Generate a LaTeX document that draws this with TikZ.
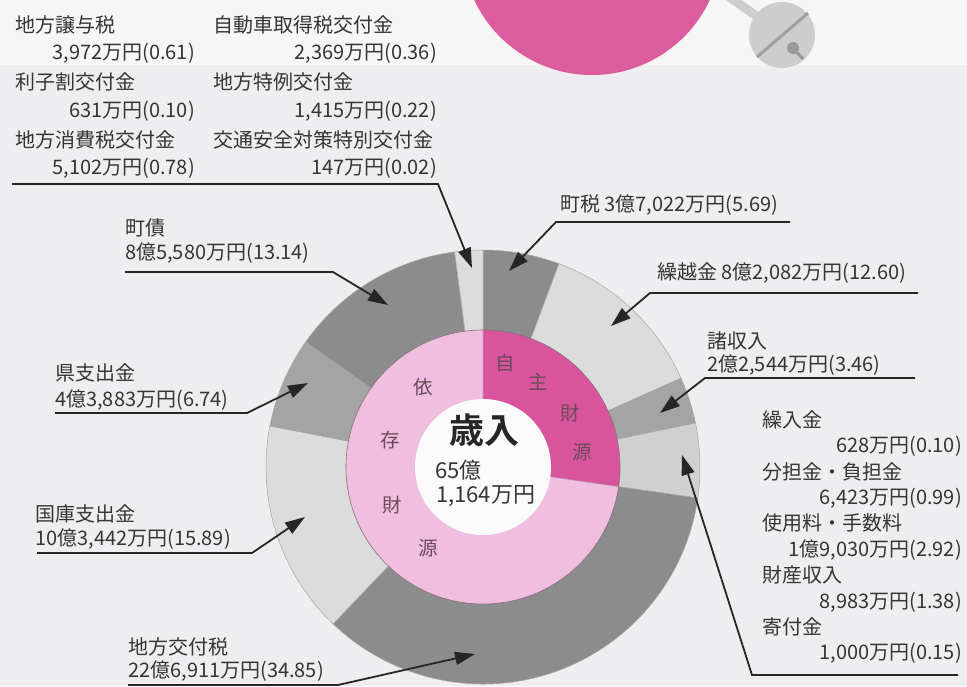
\documentclass[tikz,border=0pt]{standalone}
\usepackage{fontspec}
\setmainfont{Noto Sans CJK JP}[BoldFont={Noto Sans CJK JP Bold}]
\usetikzlibrary{arrows.meta}

\definecolor{bgpaper}{HTML}{EEEEF0}
\definecolor{bgtop}{HTML}{F6F6F6}
\definecolor{txtgray}{HTML}{353535}
\definecolor{segdark}{HTML}{8C8C8C}
\definecolor{segmid}{HTML}{A4A4A4}
\definecolor{seglight}{HTML}{DCDCDC}
\definecolor{segpale}{HTML}{D0D0D0}
\definecolor{pinkdark}{HTML}{D9559B}
\definecolor{pinklight}{HTML}{F0BEDF}
\definecolor{pinktext}{HTML}{6B4A5C}
\definecolor{blobpink}{HTML}{DC5D9E}
\definecolor{bellgray}{HTML}{CDCDCD}

\tikzset{
  lbl/.style={font=\fontsize{20}{24}\selectfont, text=txtgray, inner sep=0pt},
  ringlbl/.style={font=\fontsize{19.5}{22}\selectfont, text=pinktext, inner sep=0pt},
  leader/.style={line width=1.8pt, draw=black!85, -{Triangle[length=20pt,width=13pt]}},
}

\begin{document}
\begin{tikzpicture}[x=1pt, y=-1pt]
    \useasboundingbox (0,0) rectangle (967,686);
    \clip (0,0) rectangle (967,686);
    % paper
    \fill[bgpaper] (0,0) rectangle (967,686);
    \fill[bgtop] (0,0) rectangle (967,65);

    % decoration at the top
    \fill[blobpink] (592,-55) circle[radius=130pt];
    \draw[bellgray, line width=9pt] (728,-4) -- (762,20);
    \fill[bellgray] (782,35) circle[radius=33pt];
    \draw[gray!75, line width=3pt] (757,57) -- (808,13);
    \draw[gray!80, line width=3pt] (793,48) -- (803,59);
    \fill[gray!80] (793,48) circle[radius=6pt];

    % ring chart
    \begin{scope}[shift={(483,467)}]
        \foreach \a/\b/\c in {90/69.516/segdark, 69.516/24.156/seglight, 24.156/11.7/segmid,
                              11.7/-8.244/segpale, -8.244/-133.704/segdark, -133.704/-190.908/seglight,
                              -190.908/-215.172/segmid, -215.172/-262.476/segdark, -262.476/-270/seglight}
            \filldraw[fill=\c, draw=gray!70, line width=0.5pt] (0,0) -- (\a:217pt) arc[start angle=\a, end angle=\b, radius=217pt] -- cycle;
        \fill[pinkdark] (0,0) -- (90:137pt) arc[start angle=90, end angle=-8.244, radius=137pt] -- cycle;
        \fill[pinklight] (0,0) -- (-8.244:137pt) arc[start angle=-8.244, end angle=-270, radius=137pt] -- cycle;
        \draw[pinktext!80, line width=0.6pt] (0,0) circle[radius=137pt];
        \draw[pinktext!60, line width=0.5pt] (90:68pt) -- (90:137pt) (-8.244:68pt) -- (-8.244:137pt);
        \fill[white!96!gray] (0,0) circle[radius=68pt];
    \end{scope}

    % centre
    \node[font=\fontsize{35}{36}\selectfont\bfseries, text=black!85, inner sep=0pt] (sainyu) at (484,430) {歳入};
    \node[lbl, font=\fontsize{22}{24}\selectfont, anchor=west] (totalA) at (435,470) {65億};
    \node[lbl, font=\fontsize{22}{24}\selectfont, anchor=west] (totalB) at (436,496) {1,164万円};

    % inner ring
    \node[ringlbl] (ji1) at (505,363) {自};
    \node[ringlbl] (ji2) at (538,382) {主};
    \node[ringlbl] (ji3) at (570,413) {財};
    \node[ringlbl] (ji4) at (582,452) {源};
    \node[ringlbl] (izon1) at (423,387) {依};
    \node[ringlbl] (izon2) at (390,440) {存};
    \node[ringlbl] (izon3) at (392,505) {財};
    \node[ringlbl] (izon4) at (428,548) {源};

    % small grants, top left
    \node[lbl, anchor=west] (jouyo) at (15,25) {地方譲与税};
    \node[lbl, anchor=east] (jouyoV) at (195,53) {3,972万円(0.61)};
    \node[lbl, anchor=west] (rishi) at (15,82) {利子割交付金};
    \node[lbl, anchor=east] (rishiV) at (195,111) {631万円(0.10)};
    \node[lbl, anchor=west] (shohi) at (15,140) {地方消費税交付金};
    \node[lbl, anchor=east] (shohiV) at (195,168) {5,102万円(0.78)};
    \node[lbl, anchor=west] (jidosha) at (213,25) {自動車取得税交付金};
    \node[lbl, anchor=east] (jidoshaV) at (437,53) {2,369万円(0.36)};
    \node[lbl, anchor=west] (tokurei) at (213,82) {地方特例交付金};
    \node[lbl, anchor=east] (tokureiV) at (437,111) {1,415万円(0.22)};
    \node[lbl, anchor=west] (kotsu) at (213,140) {交通安全対策特別交付金};
    \node[lbl, anchor=east] (kotsuV) at (437,168) {147万円(0.02)};
    \coordinate (smallL) at (12,184);
    \coordinate (smallR) at (438,184);
    \coordinate (smallTip) at (472,268);
    \draw[leader] (smallL) -- (smallR) -- (smallTip);

    % left side
    \node[lbl, anchor=west] (chosai) at (125,228) {町債};
    \node[lbl, anchor=west] (chosaiV) at (125,253) {8億5,580万円(13.14)};
    \coordinate (chosaiL) at (125,272);
    \coordinate (chosaiR) at (333,272);
    \coordinate (chosaiTip) at (388,305);
    \draw[leader] (chosaiL) -- (chosaiR) -- (chosaiTip);

    \node[lbl, anchor=west] (ken) at (55,373) {県支出金};
    \node[lbl, anchor=west] (kenV) at (55,400) {4億3,883万円(6.74)};
    \coordinate (kenL) at (55,413);
    \coordinate (kenR) at (247,413);
    \coordinate (kenTip) at (308,383);
    \draw[leader] (kenL) -- (kenR) -- (kenTip);

    \node[lbl, anchor=west] (kokko) at (35,514) {国庫支出金};
    \node[lbl, anchor=west] (kokkoV) at (35,539) {10億3,442万円(15.89)};
    \coordinate (kokkoL) at (37,553);
    \coordinate (kokkoR) at (252,553);
    \coordinate (kokkoTip) at (305,517);
    \draw[leader] (kokkoL) -- (kokkoR) -- (kokkoTip);

    \node[lbl, anchor=west] (kofu) at (128,647) {地方交付税};
    \node[lbl, anchor=west] (kofuV) at (128,671) {22億6,911万円(34.85)};
    \coordinate (kofuL) at (128,685);
    \coordinate (kofuR) at (338,685);
    \coordinate (kofuTip) at (475,654);
    \draw[leader] (kofuL) -- (kofuR) -- (kofuTip);

    % right side
    \node[lbl, anchor=west] (chozei) at (560,205) {町税 3億7,022万円(5.69)};
    \coordinate (chozeiR) at (790,222);
    \coordinate (chozeiL) at (556,222);
    \coordinate (chozeiTip) at (509,271);
    \draw[leader] (chozeiR) -- (chozeiL) -- (chozeiTip);

    \node[lbl, anchor=west] (kurikoshi) at (657,273) {繰越金 8億2,082万円(12.60)};
    \coordinate (kurikoshiR) at (918,293);
    \coordinate (kurikoshiL) at (650,293);
    \coordinate (kurikoshiTip) at (611,326);
    \draw[leader] (kurikoshiR) -- (kurikoshiL) -- (kurikoshiTip);

    \node[lbl, anchor=west] (shoshu) at (707,341) {諸収入};
    \node[lbl, anchor=west] (shoshuV) at (707,365) {2億2,544万円(3.46)};
    \coordinate (shoshuR) at (915,378);
    \coordinate (shoshuL) at (705,378);
    \coordinate (shoshuTip) at (660,413);
    \draw[leader] (shoshuR) -- (shoshuL) -- (shoshuTip);

    \node[lbl, anchor=west] (kurii) at (762,420) {繰入金};
    \node[lbl, anchor=east] (kuriiV) at (962,446) {628万円(0.10)};
    \node[lbl, anchor=west] (buntan) at (762,472) {分担金・負担金};
    \node[lbl, anchor=east] (buntanV) at (962,498) {6,423万円(0.99)};
    \node[lbl, anchor=west] (shiyo) at (762,523) {使用料・手数料};
    \node[lbl, anchor=east] (shiyoV) at (962,550) {1億9,030万円(2.92)};
    \node[lbl, anchor=west] (zaisan) at (762,575) {財産収入};
    \node[lbl, anchor=east] (zaisanV) at (962,602) {8,983万円(1.38)};
    \node[lbl, anchor=west] (kifu) at (762,627) {寄付金};
    \node[lbl, anchor=east] (kifuV) at (962,653) {1,000万円(0.15)};
    \coordinate (otherR) at (958,675);
    \coordinate (otherL) at (752,675);
    \coordinate (otherTip) at (682,455);
    \draw[leader] (otherR) -- (otherL) -- (otherTip);
\end{tikzpicture}
\end{document}
